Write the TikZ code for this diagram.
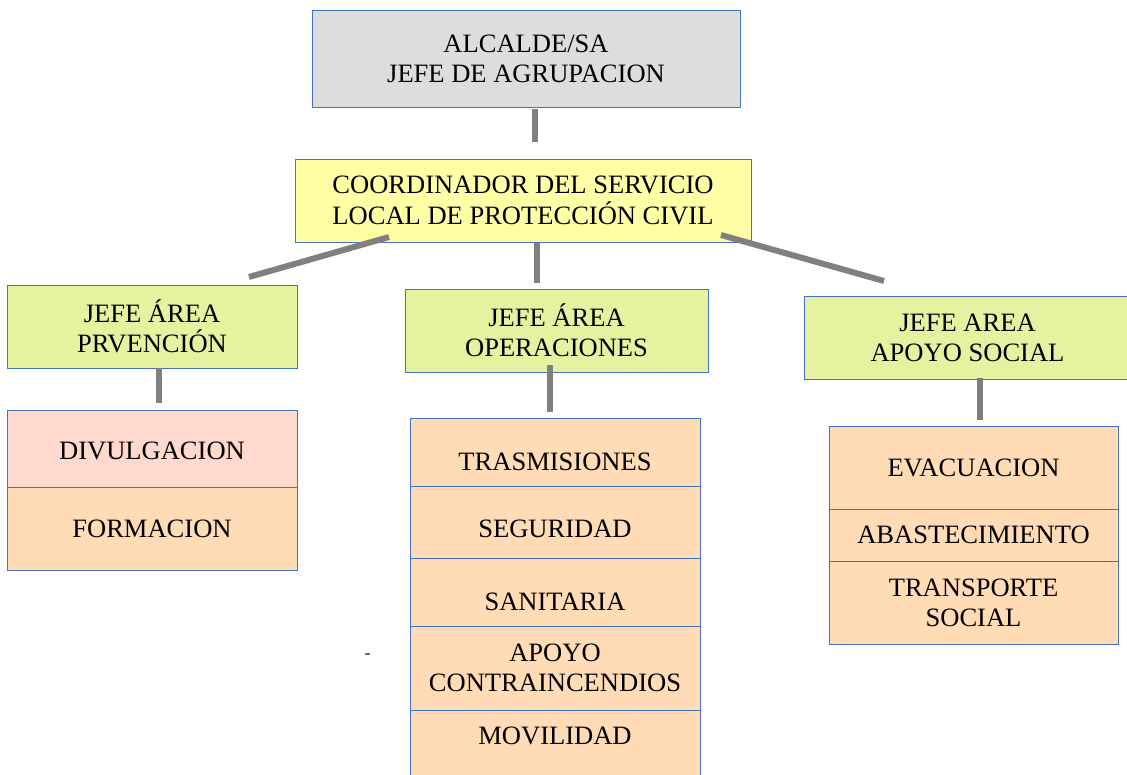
\documentclass[tikz,border=0pt]{standalone}
\usepackage{fontspec}
\setmainfont{Liberation Serif}
\usepackage{xcolor}
\usepackage{tikz}

\definecolor{boxline}{RGB}{68,114,196}
\definecolor{topgray}{RGB}{221,221,221}
\definecolor{coordyel}{RGB}{255,255,166}
\definecolor{jefelime}{RGB}{231,242,161}
\definecolor{divpink}{RGB}{255,216,206}
\definecolor{cellpeach}{RGB}{255,219,182}
\definecolor{linkgray}{RGB}{128,128,128}

\tikzset{
  box/.style={draw=boxline, line width=0.75pt, align=center, inner sep=0pt,
    font=\fontsize{19.9}{22.7}\selectfont},
  cell/.style={box, fill=cellpeach, minimum width=217.5pt},
  low/.style={text height=#1, text depth=0pt},
  link/.style={draw=linkgray, line width=4.5pt}
}

\begin{document}
\begin{tikzpicture}[x=0.75pt,y=0.75pt,yscale=-1,xscale=1]
        \useasboundingbox (0,0) rectangle (1127,774);

        % top of the chart
        \node [box, fill=topgray, minimum width=321pt, minimum height=72pt] (alc) at (526,59) {ALCALDE/SA\\JEFE DE AGRUPACION};
        \node [box, fill=coordyel, minimum width=342pt, minimum height=62.25pt] (coord) at (523,200.5) {COORDINADOR DEL SERVICIO\\LOCAL DE PROTECCIÓN CIVIL};

        % area heads
        \node [box, fill=jefelime, minimum width=217.5pt, minimum height=62.25pt] (prev) at (152,326.5) {JEFE ÁREA\\PRVENCIÓN};
        \node [box, fill=jefelime, minimum width=227.25pt, minimum height=62.25pt] (oper) at (556.5,330.5) {JEFE ÁREA\\OPERACIONES};
        \node [box, fill=jefelime, minimum width=245.25pt, minimum height=62.25pt] (social) at (967.5,337.5) {JEFE AREA\\APOYO SOCIAL};

        % prevencion
        \node [box, fill=divpink, minimum width=217.5pt, minimum height=57.75pt, low=17pt] (divul) at (152,448.5) {DIVULGACION};
        \node [cell, minimum height=62.25pt] (form) at (152,528.5) {FORMACION};

        % operaciones
        \node [cell, minimum height=51pt, low=27pt] (trasm) at (555,452) {TRASMISIONES};
        \node [cell, minimum height=54pt, low=22.5pt] (segur) at (555,522) {SEGURIDAD};
        \node [cell, minimum height=51pt, low=27pt] (sanit) at (555,592) {SANITARIA};
        \node [cell, minimum height=63pt] (apoyo) at (555,668) {APOYO\\CONTRAINCENDIOS};
        \node [cell, minimum height=49.5pt, text height=13.2pt, text depth=10.5pt] (movil) at (555,743) {MOVILIDAD};

        % apoyo social
        \node [cell, minimum width=216.75pt, minimum height=62.25pt] (evac) at (973.5,467.5) {EVACUACION};
        \node [cell, minimum width=216.75pt, minimum height=39pt] (abast) at (973.5,535) {ABASTECIMIENTO};
        \node [cell, minimum width=216.75pt, minimum height=62.25pt] (transp) at (973.5,602.5) {TRANSPORTE\\SOCIAL};

        % connector ends
        \coordinate (alc-dn) at (535,109);
        \coordinate (coord-up) at (535,142);
        \coordinate (coord-dl) at (389,237);
        \coordinate (prev-up) at (249,277);
        \coordinate (coord-dn) at (537,243);
        \coordinate (oper-up) at (537,283);
        \coordinate (coord-dr) at (721,235);
        \coordinate (social-up) at (884,281);
        \coordinate (prev-dn) at (159,368);
        \coordinate (divul-up) at (159,403);
        \coordinate (oper-dn) at (550,365);
        \coordinate (trasm-up) at (550,412);
        \coordinate (social-dn) at (980,378);
        \coordinate (evac-up) at (980,420);

        \draw [link] (alc-dn) -- (coord-up);
        \draw [link] (coord-dl) -- (prev-up);
        \draw [link] (coord-dn) -- (oper-up);
        \draw [link] (coord-dr) -- (social-up);
        \draw [link] (prev-dn) -- (divul-up);
        \draw [link] (oper-dn) -- (trasm-up);
        \draw [link] (social-dn) -- (evac-up);

        \draw [boxline, line width=1.2pt] (365,654) -- (370,654);
    \end{tikzpicture}
\end{document}
